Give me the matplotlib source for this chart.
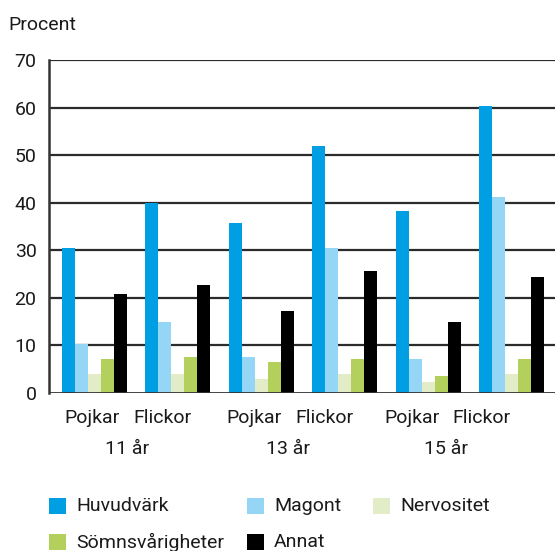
import matplotlib
matplotlib.use("Agg")
import matplotlib.pyplot as plt
from matplotlib.patches import Rectangle
import numpy as np

plt.rcParams['font.family'] = ['Roboto', 'DejaVu Sans']

groups = ["Pojkar", "Flickor", "Pojkar", "Flickor", "Pojkar", "Flickor"]
ages = ["11 år", "13 år", "15 år"]
series = ["Huvudvärk", "Magont", "Nervositet", "Sömnsvårigheter", "Annat"]
huvudvark = [30.5, 39.9, 35.7, 51.9, 38.3, 60.3]
magont = [10.2, 14.9, 7.5, 30.5, 7.1, 41.2]
nervositet = [4.0, 4.0, 2.9, 3.9, 2.2, 3.9]
somn = [7.1, 7.5, 6.5, 7.1, 3.5, 7.1]
annat = [20.8, 22.7, 17.2, 25.6, 14.9, 24.3]
yticks = [0, 10, 20, 30, 40, 50, 60, 70]

values = [huvudvark, magont, nervositet, somn, annat]
colors = ["#009FE3", "#95D5F6", "#E2ECC6", "#B3CF5C", "#000000"]

W, H = 555, 551
FS = 14
TC = "#1a1a1a"
fig = plt.figure(figsize=(W / 100, H / 100), dpi=100)
ax = fig.add_axes([49 / W, 1 - 392.7 / H, 506 / W, 332.7 / H])

x = np.arange(len(groups))
bw = 13 / 83.4
for k, (vals, c) in enumerate(zip(values, colors)):
    ax.bar(x - 2 * bw + k * bw, vals, width=bw, color=c, zorder=3, linewidth=0)

ax.set_xlim((49 - 94.5) / 83.4, (555 - 94.5) / 83.4)
ax.set_ylim(0, 70)
ax.set_yticks(yticks)
ax.set_yticklabels([str(t) for t in yticks], fontsize=FS, color=TC)
ax.tick_params(axis='y', length=0, pad=9)
ax.set_xticks([])
for t in yticks[1:]:
    ax.axhline(t, color="#2b2b2b", lw=1.6, zorder=1)
ax.axhline(0, color="#333333", lw=2.0, zorder=4)
for s in ["top", "right", "bottom"]:
    ax.spines[s].set_visible(False)
ax.spines["left"].set_color("#333333")
ax.spines["left"].set_linewidth(1.8)

fig.text(8 / W, 1 - 25 / H, "Procent", fontsize=FS, va="center", ha="left", color=TC)

# category labels (pixel centers)
lab_px = [92, 162, 254, 324, 412, 481]
for g, px in zip(groups, lab_px):
    fig.text(px / W, 1 - 418 / H, g, fontsize=FS, ha="center", va="center", color=TC)
age_px = [127, 288, 446]
for a, px in zip(ages, age_px):
    fig.text(px / W, 1 - 449 / H, a, fontsize=FS, ha="center", va="center", color=TC)

# legend
leg_pos = [(49, 506), (247, 506), (373, 506), (49, 542), (247, 542)]
for name, c, (px, py) in zip(series, colors, leg_pos):
    fig.add_artist(Rectangle((px / W, 1 - (py + 8) / H), 17 / W, 16 / H,
                             transform=fig.transFigure, color=c, lw=0))
    fig.text((px + 27) / W, 1 - py / H, name, fontsize=FS, ha="left", va="center", color=TC)

fig.savefig("out.png", dpi=100)
